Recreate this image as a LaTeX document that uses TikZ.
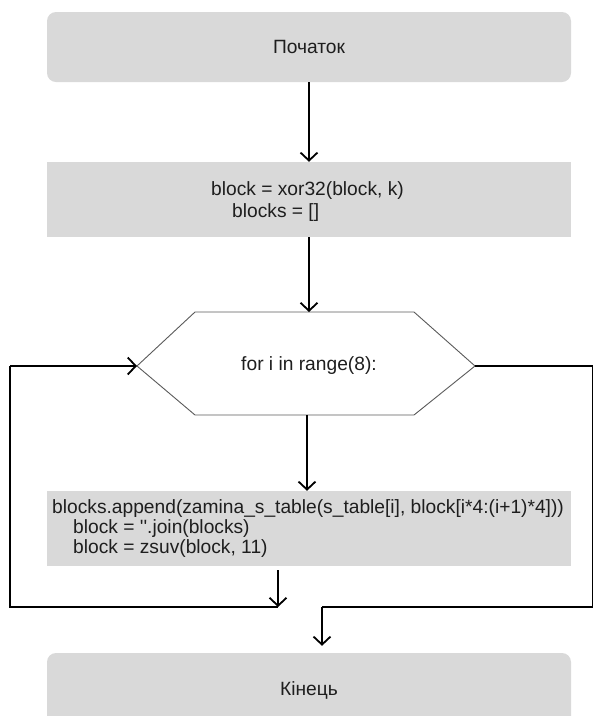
\documentclass[tikz,border=0pt]{standalone}
\usepackage{fontspec}
\setmainfont{Liberation Sans}[Ligatures=TeXOff]
\usetikzlibrary{arrows.meta}
\definecolor{boxgray}{HTML}{D9D9D9}
\definecolor{txtgray}{HTML}{1E1E1E}
\definecolor{edgegray}{HTML}{5A5A5A}
\begin{document}
\begin{tikzpicture}[x=1pt, y=-1pt,
    every node/.style={font=\fontsize{19.2}{22}\selectfont, text=txtgray},
    termbox/.style={fill=boxgray, rounded corners=9pt, minimum width=\W, minimum height=70pt},
    procbox/.style={fill=boxgray, minimum width=\W, minimum height=75pt},
    code/.style={anchor=west, align=left, inner sep=0pt},
    flow/.style={line width=1.8pt, -{Straight Barb[length=8pt, width=17pt, line width=1.8pt]}},
    back/.style={line width=1.2pt}]

  \newcommand\W{524pt}
  \newcommand\MID{309}
  \newcommand\IND{\hspace{21pt}}

  \clip (0, 0) rectangle (593, 716);

  \node[termbox] (start) at (\MID, 47) {Початок};
  \node[procbox] (init) at (\MID, 199.5) {};
  \node[code] (initTxt) at (211, 202) {block = xor32(block, k)\\\IND blocks = []};

  % loop head
  \draw[edgegray, fill=white, line width=0.9pt] (137, 366) coordinate(forL) -- (195, 312) -- (414, 312) -- (475, 366) coordinate(forR)
    -- (414, 415) -- (195, 415) -- cycle;
  \node (forTxt) at (\MID, 366) {for i in range(8):};
  \coordinate (forT) at (\MID, 312);
  \coordinate (forB) at (307, 415);

  \node[procbox] (body) at (308.5, 528.5) {};
  \node[code, font=\fontsize{19.2}{20}\selectfont] (bodyTxt) at (52, 529) {blocks.append(zamina\_s\_table(s\_table[i], block[i*4:(i+1)*4]))\\
    \IND block = ''.join(blocks)\\\IND block = zsuv(block, 11)};

  \node[termbox, minimum height=90pt] (stop) at (\MID, 698) {};
  \node (stopTxt) at (\MID, 690) {Кінець};

  \coordinate (joinL) at (278, 607);
  \coordinate (joinR) at (322, 607);

  \draw[flow] (start) -- (init);
  \draw[flow] (init) -- (forT);
  \draw[flow] (forB) -- (forB |- body.north);
  \draw[flow] (joinL |- body.south) ++(0, 4) -- (joinL);
  \draw[back] (joinL) -- (10, 607) -- (10, 366) coordinate(loopL);
  \draw[flow] (loopL) -- (forL);
  \draw[back] (forR) -- (593, 366) -- (593, 607) -- (joinR);
  \draw[flow] (joinR) -- ([yshift=7pt]joinR |- stop.north);

\end{tikzpicture}
\end{document}
